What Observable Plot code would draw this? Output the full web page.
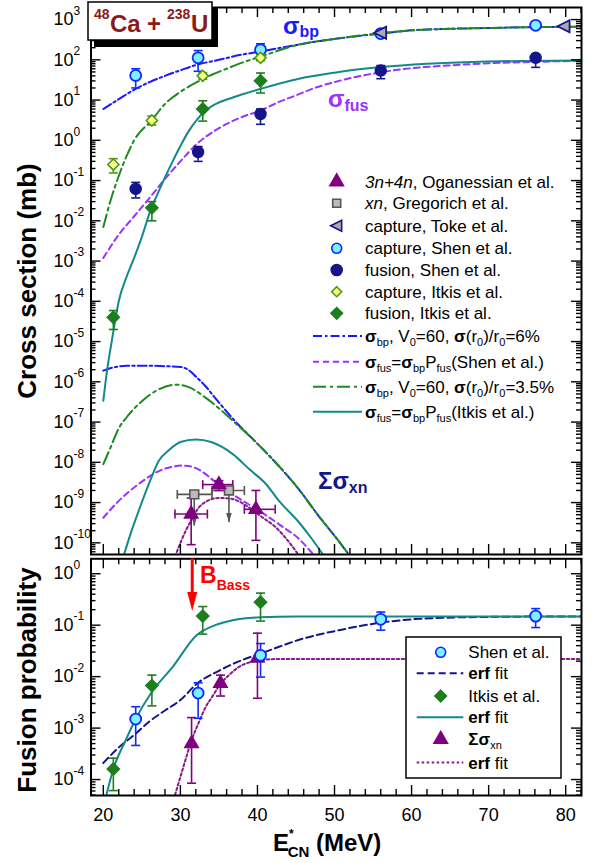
<!DOCTYPE html>
<html><head><meta charset="utf-8">
<script src="https://cdn.jsdelivr.net/npm/d3@7"></script>
<script src="https://cdn.jsdelivr.net/npm/@observablehq/plot@0.6"></script>
<style>
body{margin:0;background:#fff;}
#wrap{position:relative;width:595px;height:863px;font-family:"Liberation Sans",Arial,Helvetica,sans-serif;}
#wrap svg{position:absolute;left:0;overflow:visible;}
</style></head><body><div id="wrap"></div>
<script>
// ---------------- DATA ----------------
// Top panel: cross sections (mb)
const ogE = [31.4, 35.0, 39.8];
const ogV = [5.2e-10, 2.8e-9, 6.8e-10];
const ogLo = [9e-11, 2e-9, 1.15e-10];
const ogHi = [1.3e-9, 3.5e-9, 2e-9];
const ogXLo = [29.3, 32.9, 38.3];
const ogXHi = [33.5, 36.8, 42.3];

const grE = [31.8, 36.3];
const grV = [1.6e-9, 2e-9];
const grTip = [2.6e-10, 3.2e-10];
const grXLo = [29.6, 34.1];
const grXHi = [34.1, 38.3];

const tokeE = [56.0, 79.8];
const tokeV = [470, 680];

const capShenE = [24.2, 32.3, 40.4, 56.0, 76.1];
const capShenV = [41, 112, 178, 450, 720];
const capShenLo = [20, 52, 142, 400, 650];
const capShenHi = [60, 170, 250, 510, 790];

const fusShenE = [24.2, 32.3, 40.4, 56.0, 76.1];
const fusShenV = [0.062, 0.51, 4.5, 54, 112];
const fusShenLo = [0.037, 0.3, 2.5, 34, 65];
const fusShenHi = [0.09, 0.7, 6.0, 72, 140];

const capItkisE = [21.3, 26.3, 32.9, 40.4];
const capItkisV = [0.25, 3.1, 40, 112];
const capItkisLo = [0.155, 2.4, 33, 95];
const capItkisHi = [0.35, 4.0, 48, 135];

const fusItkisE = [21.3, 26.3, 32.9, 40.4];
const fusItkisV = [4e-5, 0.021, 6.0, 30];
const fusItkisLo = [2e-5, 0.01, 3.0, 15];
const fusItkisHi = [5.9e-5, 0.03, 9.6, 47];

// Top panel curves
const bpUpE = [20, 22, 24.2, 26, 28, 30, 32.1, 35, 38, 40.4, 43, 45.4, 47.1, 50, 56, 60, 65, 68.8, 72, 76, 80, 82];
const bpUpV = [6, 10.5, 19, 28, 40, 55, 75, 100, 135, 160, 200, 240, 275, 330, 450, 540, 590, 610, 630, 650, 660, 670];
const bp35UpE = [20, 21, 22, 23, 24, 26.3, 28, 30, 32, 34, 36, 38, 40.4, 45, 50, 56, 60, 65, 70, 76, 82];
const bp35UpV = [0.007, 0.035, 0.13, 0.4, 1.0, 3.2, 8, 16, 27, 42, 60, 85, 120, 230, 330, 460, 540, 590, 620, 650, 670];
const bpLoE = [20, 21, 23, 26, 28, 30, 31, 32.1, 33.2, 34.5, 37, 40, 42.8, 45.4, 48, 50, 52.5];
const bpLoV = [1.9e-6, 2.2e-6, 2.5e-6, 2.5e-6, 2.45e-6, 2.35e-6, 2e-6, 1.3e-6, 8e-7, 4e-7, 1.1e-7, 2.9e-8, 8e-9, 2.1e-9, 4.5e-10, 1.5e-10, 3.5e-11];
const bp35LoE = [20, 21, 22, 23, 25, 27, 29.4, 31, 33.3, 35, 37, 40, 42.8, 45.4, 48, 50, 52.5];
const bp35LoV = [9e-9, 2.5e-8, 7e-8, 1.3e-7, 3.3e-7, 6.2e-7, 8.5e-7, 7.5e-7, 4e-7, 2.2e-7, 1e-7, 2.9e-8, 8e-9, 2.1e-9, 4.5e-10, 1.5e-10, 3.5e-11];
const fusShUpE = [20, 22, 24, 26, 28, 30, 32.1, 35, 38, 40.4, 42.8, 45.4, 47.1, 50, 56, 60, 64.6, 70, 76, 82];
const fusShUpV = [1.2e-3, 4.5e-3, 0.013, 0.037, 0.11, 0.3, 0.8, 2.0, 3.8, 5.5, 9, 14, 19, 28, 49, 62, 72, 82, 89, 95];
const fusItUpE = [20, 20.5, 21, 21.5, 22, 23, 24, 25, 26.2, 27, 28, 29, 30, 31, 32, 33, 34.5, 36.8, 40.4, 45.4, 50, 56, 62, 68.8, 75, 82];
const fusItUpV = [3.4e-7, 2e-6, 8e-6, 3e-5, 1e-4, 4e-4, 1.2e-3, 4e-3, 0.02, 0.045, 0.12, 0.3, 0.72, 1.6, 3.0, 5.0, 7.8, 11.6, 19, 34, 48, 66, 80, 90, 94, 96];
const fusShLoE = [20, 22, 24.6, 27, 29, 30.3, 32, 34.6, 37, 40.2, 43.4, 45.2, 47.5];
const fusShLoV = [4.2e-10, 1.1e-9, 2.9e-9, 5.8e-9, 7.8e-9, 8.3e-9, 7.2e-9, 3.2e-9, 1.5e-9, 6.3e-10, 2.4e-10, 1.35e-10, 4.5e-11];
const fusItLoE = [22.6, 23.5, 24.6, 26, 27.2, 28.5, 30, 32, 34, 36.8, 39, 41.1, 42.8, 45.4, 47, 48.7];
const fusItLoV = [4.5e-11, 1.6e-10, 6.3e-10, 3.2e-9, 1.1e-8, 2e-8, 3.2e-8, 3.7e-8, 3.2e-8, 1.6e-8, 6.6e-9, 2.9e-9, 1.1e-9, 3.2e-10, 1.3e-10, 4.5e-11];
const xnFitE = [29.3, 30, 30.7, 31.4, 32.1, 33.5, 35, 36.5, 38.9, 40.5, 42.4, 44, 45.5];
const xnFitV = [4.5e-11, 1e-10, 2e-10, 3.6e-10, 6.3e-10, 1.1e-9, 1.3e-9, 1.25e-9, 7.6e-10, 4.5e-10, 2.4e-10, 1.1e-10, 4.5e-11];

// Bottom panel: fusion probability
const pShenE = [24.2, 32.3, 40.4, 56.0, 76.1];
const pShenV = [1.5e-3, 4.8e-3, 0.026, 0.13, 0.15];
const pShenLo = [4.6e-4, 1.55e-3, 0.0098, 0.08, 0.09];
const pShenHi = [2.6e-3, 7.6e-3, 0.044, 0.18, 0.21];
const pItkisE = [21.3, 26.3, 32.9, 40.4];
const pItkisV = [1.6e-4, 6.7e-3, 0.15, 0.28];
const pItkisLo = [6.1e-5, 2.7e-3, 0.067, 0.12];
const pItkisHi = [2.6e-4, 0.0107, 0.23, 0.42];
const pXnE = [31.45, 35.2, 40.0];
const pXnV = [5e-4, 7.4e-3, 0.023];
const pXnLo = [8.5e-5, 4.2e-3, 3.8e-3];
const pXnHi = [1.6e-3, 0.0107, 0.07];

const itErfE = [20.4, 21.3, 22.9, 24.2, 26.2, 29, 32.1, 34.5, 36.8, 40.4, 45, 82];
const itErfV = [5e-5, 1.6e-4, 5.8e-4, 1.5e-3, 4.8e-3, 0.0155, 0.064, 0.1, 0.125, 0.143, 0.147, 0.148];
const shErfE = [20, 22, 24.2, 26, 28, 30, 32.1, 35, 38, 40.4, 42.8, 45.4, 50.6, 56, 60, 64.6, 70, 76, 82];
const shErfV = [2.1e-4, 4.2e-4, 7.8e-4, 1.35e-3, 2.2e-3, 3.5e-3, 7.2e-3, 0.013, 0.021, 0.028, 0.038, 0.052, 0.08, 0.112, 0.13, 0.14, 0.145, 0.147, 0.148];
const xnErfE = [29.3, 30.5, 31.4, 32.4, 33.3, 34.1, 35.2, 36.4, 37.6, 39, 40.4, 43, 82];
const xnErfV = [5e-5, 2e-4, 5.5e-4, 1.3e-3, 2.6e-3, 4e-3, 7.2e-3, 0.011, 0.0155, 0.019, 0.021, 0.022, 0.022];

const xTickLabels = [20, 30, 40, 50, 60, 70, 80];
const topDecades = [3, 2, 1, 0, -1, -2, -3, -4, -5, -6, -7, -8, -9, -10];
const botDecades = [0, -1, -2, -3, -4];

// ---------------- STYLE ----------------
const FONT = '"Liberation Sans", Arial, Helvetica, sans-serif';
const C = {
  blue: "#1a1aff", green: "#1f8a1f", violet: "#9933ff", teal: "#138a8a",
  purple: "#8a1a8a", navy: "#15158a", red: "#ff0000",
  cyanFill: "#7ff0ff", capBlue: "#0a2aff", itGreen: "#1e7e1e", yellow: "#ffff88", capGreen: "#4a9a10",
  grey: "#555555", greyFill: "#bbbbbb", ogPurple: "#800080", title: "#8b1a1a"
};
const DASH = { bp: "9,3,2.5,3", bp35: "13,4,3,4", fusSh: "6,4", shErf: "7,4", xn: "2.5,2.5" };

const leftTri = {draw(ctx, size){ const r = Math.sqrt(size/Math.PI); ctx.moveTo(-r*1.1, 0); ctx.lineTo(r*0.9, -r); ctx.lineTo(r*0.9, r); ctx.closePath(); }};
const hcap = {draw(ctx, size){ const r = Math.sqrt(size/Math.PI); ctx.moveTo(-r, 0); ctx.lineTo(r, 0); }};
const vcap = {draw(ctx, size){ const r = Math.sqrt(size/Math.PI); ctx.moveTo(0, -r); ctx.lineTo(0, r); }};
const downHead = {draw(ctx, size){ const r = Math.sqrt(size/Math.PI); ctx.moveTo(0, 0); ctx.lineTo(-r*0.55, -r*1.9); ctx.lineTo(r*0.55, -r*1.9); ctx.closePath(); }};

const zip = (E, V) => E.map((e, i) => ({E: e, V: V[i]}));
const pts = (E, V, lo, hi) => E.map((e, i) => ({E: e, V: V[i], lo: lo ? lo[i] : null, hi: hi ? hi[i] : null}));

function curve(E, V, color, dash) {
  return Plot.line(zip(E, V), {x: "E", y: "V", stroke: color, strokeWidth: 2, strokeDasharray: dash, curve: "monotone-x", clip: true});
}
function errs(data, color, capR = 4.5) {
  return [
    Plot.ruleX(data, {x: "E", y1: "lo", y2: "hi", stroke: color, strokeWidth: 1.6}),
    Plot.dot(data, {x: "E", y: "lo", symbol: hcap, r: capR, stroke: color, strokeWidth: 1.6, fill: "none"}),
    Plot.dot(data, {x: "E", y: "hi", symbol: hcap, r: capR, stroke: color, strokeWidth: 1.6, fill: "none"})
  ];
}
function logMinor(lo, hi) {
  const out = [];
  for (let k = -12; k <= 4; k++) for (let m = 2; m <= 9; m++) { const v = m * Math.pow(10, k); if (v > lo && v < hi) out.push(v); }
  return out;
}
function frameTicks(yDom, decades, pw, ph) {
  const yMaj = decades.map(k => Math.pow(10, k));
  const yMin = logMinor(yDom[0], yDom[1]);
  const xMaj = xTickLabels;
  const xMin = d3.range(20, 82.1, 2).filter(v => v % 10 !== 0);
  const sw = 1.4;
  return [
    Plot.tickY(yMaj, {y: d => d, insetRight: pw - 10, strokeWidth: sw}),
    Plot.tickY(yMin, {y: d => d, insetRight: pw - 5, strokeWidth: sw}),
    Plot.tickY(yMaj, {y: d => d, insetLeft: pw - 10, strokeWidth: sw}),
    Plot.tickY(yMin, {y: d => d, insetLeft: pw - 5, strokeWidth: sw}),
    Plot.tickX(xMaj, {x: d => d, insetBottom: ph - 10, strokeWidth: sw}),
    Plot.tickX(xMin, {x: d => d, insetBottom: ph - 6, strokeWidth: sw}),
    Plot.tickX(xMaj, {x: d => d, insetTop: ph - 10, strokeWidth: sw}),
    Plot.tickX(xMin, {x: d => d, insetTop: ph - 6, strokeWidth: sw}),
    Plot.text(decades, {y: d => Math.pow(10, d), text: d => "10^" + d, frameAnchor: "left", textAnchor: "start", dx: -37.5, fontSize: 18}),
    Plot.frame({strokeWidth: 2})
  ];
}
function supify(svg) {
  d3.select(svg).selectAll("text").each(function() {
    const m = /^10\^(-?\d+)$/.exec(this.textContent);
    if (!m) return;
    const t = d3.select(this);
    t.text("10");
    t.append("tspan").attr("dy", -10.5).attr("font-size", 12).text(m[1]);
  });
}
function rich(sel, x, y, parts, base) {
  const t = sel.append("text").attr("x", x).attr("y", y).attr("font-size", base.size)
    .attr("fill", base.fill || "#000").attr("font-family", FONT).attr("text-anchor", base.anchor || "start");
  if (base.weight) t.attr("font-weight", base.weight);
  if (base.transform) t.attr("transform", base.transform);
  let shift = 0;
  for (const p of parts) {
    const [str, o] = Array.isArray(p) ? p : [p, {}];
    const target = o.sub ? (typeof o.sub === "number" ? o.sub : 4) : o.sup ? -o.sup : 0;
    const ts = t.append("tspan").text(str).attr("dy", target - shift);
    shift = target;
    if (o.b) ts.attr("font-weight", "bold");
    if (o.i) ts.attr("font-style", "italic");
    if (o.size) ts.attr("font-size", o.size);
    else if (o.sub || o.sup) ts.attr("font-size", Math.round(base.size * 0.66));
    if (o.dx) ts.attr("dx", o.dx);
    if (o.fill) ts.attr("fill", o.fill);
  }
  return t;
}

const wrap = document.getElementById("wrap");
const xDomain = [18.4, 82.05];
const W = 595, ML = 90.5, MR = 14, PW = W - ML - MR;

// ---------------- TOP PANEL ----------------
const topDom = [Math.pow(10, -10.29), Math.pow(10, 3.3)];
const topH = 556, topMT = 7, topMB = 2;
const ogData = pts(ogE, ogV, ogLo, ogHi).map((d, i) => ({...d, xlo: ogXLo[i], xhi: ogXHi[i]}));
const grData = grE.map((e, i) => ({E: e, V: grV[i], tip: grTip[i], xlo: grXLo[i], xhi: grXHi[i]}));

const topPlot = Plot.plot({
  width: W, height: topH, marginLeft: ML, marginRight: MR, marginTop: topMT, marginBottom: topMB,
  x: {domain: xDomain, axis: null},
  y: {type: "log", domain: topDom, axis: null},
  style: {background: "transparent", fontFamily: FONT, color: "#000", overflow: "visible"},
  marks: [
    curve(bpLoE, bpLoV, C.blue, DASH.bp),
    curve(bp35LoE, bp35LoV, C.green, DASH.bp35),
    curve(bpUpE, bpUpV, C.blue, DASH.bp),
    curve(bp35UpE, bp35UpV, C.green, DASH.bp35),
    curve(fusShUpE, fusShUpV, C.violet, DASH.fusSh),
    curve(fusShLoE, fusShLoV, C.violet, DASH.fusSh),
    curve(fusItUpE, fusItUpV, C.teal, null),
    curve(fusItLoE, fusItLoV, C.teal, null),
    curve(xnFitE, xnFitV, C.purple, DASH.xn),
    // Gregorich xn (upper limits)
    Plot.ruleY(grData, {y: "V", x1: "xlo", x2: "xhi", stroke: C.grey, strokeWidth: 1.6}),
    Plot.dot(grData, {x: "xlo", y: "V", symbol: vcap, r: 4.5, stroke: C.grey, strokeWidth: 1.6, fill: "none"}),
    Plot.dot(grData, {x: "xhi", y: "V", symbol: vcap, r: 4.5, stroke: C.grey, strokeWidth: 1.6, fill: "none"}),
    Plot.ruleX(grData, {x: "E", y1: "V", y2: "tip", stroke: C.grey, strokeWidth: 1.6}),
    Plot.dot(grData, {x: "E", y: "tip", symbol: downHead, r: 5, fill: C.grey, stroke: "none"}),
    // Oganessian
    Plot.ruleY(ogData, {y: "V", x1: "xlo", x2: "xhi", stroke: C.ogPurple, strokeWidth: 1.6}),
    Plot.dot(ogData, {x: "xlo", y: "V", symbol: vcap, r: 4.5, stroke: C.ogPurple, strokeWidth: 1.6, fill: "none"}),
    Plot.dot(ogData, {x: "xhi", y: "V", symbol: vcap, r: 4.5, stroke: C.ogPurple, strokeWidth: 1.6, fill: "none"}),
    ...errs(ogData, C.ogPurple),
    Plot.dot(grData, {x: "E", y: "V", symbol: "square", r: 5, fill: C.greyFill, stroke: C.grey, strokeWidth: 1.6}),
    Plot.dot(ogData, {x: "E", y: "V", symbol: "triangle", r: 5, fill: C.ogPurple, stroke: C.ogPurple}),
    // Shen
    ...errs(pts(capShenE, capShenV, capShenLo, capShenHi), C.capBlue),
    ...errs(pts(fusShenE, fusShenV, fusShenLo, fusShenHi), C.navy),
    Plot.dot(pts(fusShenE, fusShenV), {x: "E", y: "V", r: 5.5, fill: C.navy, stroke: C.navy}),
    Plot.dot(pts(capShenE, capShenV), {x: "E", y: "V", r: 5.5, fill: C.cyanFill, stroke: C.capBlue, strokeWidth: 1.8}),
    Plot.dot(pts(tokeE, tokeV), {x: "E", y: "V", symbol: leftTri, r: 6, fill: "#aaaaaa", stroke: C.navy, strokeWidth: 1.8}),
    // Itkis
    ...errs(pts(capItkisE, capItkisV, capItkisLo, capItkisHi), C.capGreen),
    ...errs(pts(fusItkisE, fusItkisV, fusItkisLo, fusItkisHi), C.itGreen),
    Plot.dot(pts(capItkisE, capItkisV), {x: "E", y: "V", symbol: "diamond2", r: 5, fill: C.yellow, stroke: C.capGreen, strokeWidth: 1.6}),
    Plot.dot(pts(fusItkisE, fusItkisV), {x: "E", y: "V", symbol: "diamond2", r: 5.5, fill: C.itGreen, stroke: C.itGreen}),
    ...frameTicks(topDom, topDecades, PW, topH - topMT - topMB)
  ]
});
topPlot.style.top = "0px";
wrap.appendChild(topPlot);
supify(topPlot);

// ---------------- BOTTOM PANEL ----------------
const botTop = 554;
const botDom = [Math.pow(10, -4.31), Math.pow(10, 0.29)];
const botH = 309, botMT = 4.3, botMB = 68;
const botPlot = Plot.plot({
  width: W, height: botH, marginLeft: ML, marginRight: MR, marginTop: botMT, marginBottom: botMB,
  x: {domain: xDomain, axis: null},
  y: {type: "log", domain: botDom, axis: null},
  style: {background: "transparent", fontFamily: FONT, color: "#000", overflow: "visible"},
  marks: [
    curve(xnErfE, xnErfV, C.purple, DASH.xn),
    curve(shErfE, shErfV, C.navy, DASH.shErf),
    curve(itErfE, itErfV, C.teal, null),
    ...errs(pts(pShenE, pShenV, pShenLo, pShenHi), C.capBlue),
    ...errs(pts(pItkisE, pItkisV, pItkisLo, pItkisHi), C.itGreen),
    ...errs(pts(pXnE, pXnV, pXnLo, pXnHi), C.ogPurple),
    Plot.dot(pts(pItkisE, pItkisV), {x: "E", y: "V", symbol: "diamond2", r: 5.5, fill: C.itGreen, stroke: C.itGreen}),
    Plot.dot(pts(pXnE, pXnV), {x: "E", y: "V", symbol: "triangle", r: 5, fill: C.ogPurple, stroke: C.ogPurple}),
    Plot.dot(pts(pShenE, pShenV), {x: "E", y: "V", r: 5.5, fill: C.cyanFill, stroke: C.capBlue, strokeWidth: 1.8}),
    Plot.text(xTickLabels, {x: d => d, text: d => String(d), frameAnchor: "bottom", lineAnchor: "top", dy: 13, fontSize: 18}),
    ...frameTicks(botDom, botDecades, PW, botH - botMT - botMB)
  ]
});
botPlot.style.top = botTop + "px";
wrap.appendChild(botPlot);
supify(botPlot);

// ---------------- ANNOTATIONS & LEGENDS ----------------
const T = d3.select(topPlot);

// title box
T.append("rect").attr("x", 94).attr("y", 8).attr("width", 124).attr("height", 39).attr("fill", "#000");
T.append("rect").attr("x", 88).attr("y", 2).attr("width", 124).attr("height", 38).attr("fill", "#fff").attr("stroke", "#000").attr("stroke-width", 1.5);
(function() {
  const t = T.append("text").attr("y", 32).attr("font-family", FONT).attr("font-weight", "bold").attr("fill", C.title).attr("text-anchor", "start");
  t.append("tspan").attr("x", 94).attr("dy", -13).attr("font-size", 14).text("48");
  t.append("tspan").attr("x", 110).attr("dy", 13).attr("font-size", 24).text("Ca");
  t.append("tspan").attr("x", 147).attr("font-size", 24).text("+");
  t.append("tspan").attr("x", 167).attr("dy", -13).attr("font-size", 14).text("238");
  t.append("tspan").attr("x", 191).attr("dy", 13).attr("font-size", 24).text("U");
})();

// curve labels
rich(T, 283, 34, [["σ", {b: true}], ["bp", {b: true, sub: 3, size: 16}]], {size: 24, fill: C.blue});
rich(T, 328, 107, [["σ", {b: true}], ["fus", {b: true, sub: 4, size: 16}]], {size: 24, fill: C.violet});
rich(T, 318, 489, [["Σσ", {b: true}], ["xn", {b: true, sub: 4, size: 16}]], {size: 24, fill: C.navy});

// axis titles
rich(T, 0, 0, ["Cross section (mb)"], {size: 26, weight: "bold", anchor: "middle", transform: "translate(36,281) rotate(-90)"});

// top legend
const symPath = (sym, size) => d3.symbol(sym, size)();
const legTop = [
  {y: 181.7, sym: d3.symbolTriangle, r: 5, fill: C.ogPurple, stroke: C.ogPurple, text: [["3n+4n", {i: true}], ", Oganessian et al."]},
  {y: 203.3, sym: d3.symbolSquare, r: 4.5, fill: C.greyFill, stroke: C.grey, text: [["xn", {i: true}], ", Gregorich et al."]},
  {y: 225.7, sym: leftTri, r: 5.5, fill: "#aaaaaa", stroke: C.navy, text: ["capture, Toke et al."]},
  {y: 248.3, sym: d3.symbolCircle, r: 5, fill: C.cyanFill, stroke: C.capBlue, text: ["capture, Shen et al."]},
  {y: 270, sym: d3.symbolCircle, r: 5.5, fill: C.navy, stroke: C.navy, text: ["fusion, Shen et al."]},
  {y: 291.7, sym: d3.symbolDiamond2, r: 4.5, fill: C.yellow, stroke: C.capGreen, text: ["capture, Itkis et al."]},
  {y: 313.3, sym: d3.symbolDiamond2, r: 5.2, fill: C.itGreen, stroke: C.itGreen, text: ["fusion, Itkis et al."]},
  {y: 336, line: C.blue, dash: DASH.bp, text: [["σ", {b: true}], ["bp", {sub: 4}], ", V", ["0", {sub: 4}], "=60, ", ["σ", {b: true}], "(r", ["0", {sub: 4}], ")/r", ["0", {sub: 4}], "=6%"]},
  {y: 361.7, line: C.violet, dash: DASH.fusSh, text: [["σ", {b: true}], ["fus", {sub: 4}], "=", ["σ", {b: true}], ["bp", {sub: 4}], "P", ["fus", {sub: 4}], "(Shen et al.)"]},
  {y: 386.7, line: C.green, dash: DASH.bp35, text: [["σ", {b: true}], ["bp", {sub: 4}], ", V", ["0", {sub: 4}], "=60, ", ["σ", {b: true}], "(r", ["0", {sub: 4}], ")/r", ["0", {sub: 4}], "=3.5%"]},
  {y: 411.7, line: C.teal, dash: null, text: [["σ", {b: true}], ["fus", {sub: 4}], "=", ["σ", {b: true}], ["bp", {sub: 4}], "P", ["fus", {sub: 4}], "(Itkis et al.)"]}
];
function drawLegend(sel, items, symX, lineX1, lineX2, textX, fs) {
  for (const it of items) {
    if (it.line) {
      const l = sel.append("line").attr("x1", lineX1).attr("x2", lineX2).attr("y1", it.y).attr("y2", it.y)
        .attr("stroke", it.line).attr("stroke-width", 2);
      if (it.dash) l.attr("stroke-dasharray", it.dash);
    } else {
      sel.append("path").attr("d", symPath(it.sym, it.r * it.r * Math.PI)).attr("transform", `translate(${symX},${it.y})`)
        .attr("fill", it.fill).attr("stroke", it.stroke).attr("stroke-width", 1.6);
    }
    rich(sel, textX, it.y + 6, it.text, {size: fs});
  }
}
drawLegend(T, legTop, 336.7, 313, 362, 365, 17);

// bottom panel annotations
const B = d3.select(botPlot);
const bx = botPlot.scale("x");
const bassX = bx.apply(31.6);
B.append("line").attr("x1", bassX).attr("x2", bassX).attr("y1", 4.3).attr("y2", 40).attr("stroke", C.red).attr("stroke-width", 3);
B.append("path").attr("d", `M${bassX - 5},38 L${bassX + 5},38 L${bassX},57 Z`).attr("fill", C.red);
rich(B, 200, 29, [["B", {b: true}], ["Bass", {b: true, sub: 7, size: 14}]], {size: 23, fill: C.red});

rich(B, 0, 0, ["Fusion probability"], {size: 26, weight: "bold", anchor: "middle", transform: "translate(36,126) rotate(-90)"});
(function() {
  const t = B.append("text").attr("x", 273).attr("y", 297).attr("font-family", FONT).attr("font-weight", "bold").attr("font-size", 24).attr("text-anchor", "start");
  t.append("tspan").text("E");
  t.append("tspan").attr("dy", -13).attr("font-size", 12).text("*");
  t.append("tspan").attr("dx", -6).attr("dy", 19).attr("font-size", 15).text("CN");
  t.append("tspan").attr("dy", -6).text(" (MeV)");
})();

// bottom legend
B.append("rect").attr("x", 406).attr("y", 637 - botTop).attr("width", 155).attr("height", 141)
  .attr("fill", "#fff").attr("stroke", "#000").attr("stroke-width", 1.5);
const legBot = [
  {y: 652.3, sym: d3.symbolCircle, r: 5, fill: C.cyanFill, stroke: C.capBlue, text: ["Shen et al."]},
  {y: 673.3, line: C.navy, dash: DASH.shErf, text: [["erf", {b: true}], " fit"]},
  {y: 696, sym: d3.symbolDiamond2, r: 5.2, fill: C.itGreen, stroke: C.itGreen, text: ["Itkis et al."]},
  {y: 717.3, line: C.teal, dash: null, text: [["erf", {b: true}], " fit"]},
  {y: 739.3, sym: d3.symbolTriangle, r: 5, fill: C.ogPurple, stroke: C.ogPurple, text: [["Σσ", {b: true}], ["xn", {sub: 4}]]},
  {y: 762.5, line: C.purple, dash: DASH.xn, text: [["erf", {b: true}], " fit"]}
].map(d => ({...d, y: d.y - botTop}));
drawLegend(B, legBot, 440.7, 416.7, 463.3, 468.3, 17);
</script></body></html>
